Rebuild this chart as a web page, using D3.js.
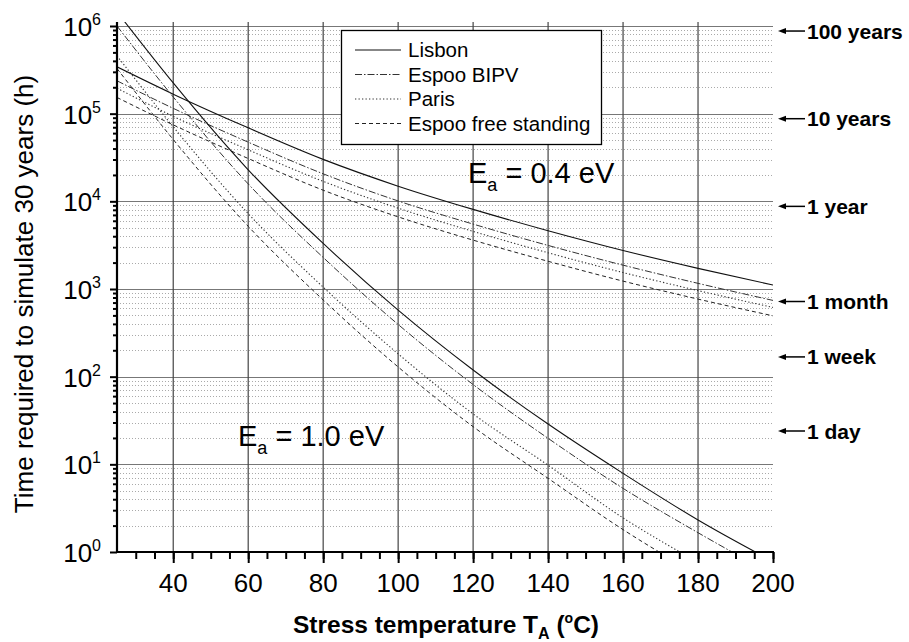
<!DOCTYPE html>
<html><head><meta charset="utf-8">
<script src="https://cdn.jsdelivr.net/npm/d3@7"></script>
<style>
body{margin:0;background:#fff}
svg{display:block}
text{font-family:"Liberation Sans",Arial,Helvetica,sans-serif;fill:#000}
</style>
</head><body>
<svg id="chart" width="909" height="642"></svg>
<script>
// ---------- data ----------
const temps = [25, 40, 60, 80, 100, 120, 140, 160, 180, 200];
const seriesNames = ["Lisbon", "Espoo BIPV", "Paris", "Espoo free standing"];

// Ea = 0.4 eV (hours)
const ea04Lisbon = [342000, 167000, 68900, 30100, 14900, 8090, 4620, 2750, 1720, 1110];
const ea04EspooBIPV = [237000, 115000, 47300, 20600, 10100, 5500, 3140, 1870, 1160, 741];
const ea04Paris = [195000, 93300, 38700, 16900, 8360, 4540, 2590, 1540, 959, 617];
const ea04EspooFree = [153000, 74500, 30800, 13400, 6650, 3610, 2070, 1230, 767, 494];

// Ea = 1.0 eV (hours)
const ea10Lisbon = [1450000, 224000, 22900, 3310, 574, 119, 28.8, 7.89, 2.32, 0.78];
const ea10EspooBIPV = [1000000, 155000, 15800, 2290, 394, 81.3, 19.8, 5.32, 1.66, 0.55];
const ea10Paris = [457000, 70800, 7240, 1050, 182, 37.6, 9.77, 2.45, 0.76, 0.25];
const ea10EspooFree = [327000, 50700, 5190, 750, 129, 26.9, 6.92, 1.80, 0.55, 0.19];

const xTickValues = [40, 60, 80, 100, 120, 140, 160, 180, 200];
const yTickValues = [1, 10, 100, 1000, 10000, 100000, 1000000];
const yTickExponents = ["0", "1", "2", "3", "4", "5", "6"];

const rightLabels = ["100 years", "10 years", "1 year", "1 month", "1 week", "1 day"];
const rightHours = [876000, 87600, 8760, 720, 168, 24];

const eaLabels = ["0.4", "1.0"];

// ---------- layout ----------
const svg = d3.select("#chart");
const L = 117, R = 773, T = 22, B = 552;
const x = d3.scaleLinear().domain([25, 200]).range([L, R]);
const y = d3.scaleLog().domain([1, Math.pow(10, 6.0456)]).range([B, T]);

const styles = [
  {dash: null, color: "#111", w: 1.1},
  {dash: "7,2,1.5,2", color: "#333", w: 1.0},
  {dash: "1.3,2.2", color: "#333", w: 1.1},
  {dash: "4,3", color: "#222", w: 1.0}
];

// ---------- grid ----------
const grid = svg.append("g");
const minorVals = [];
for (let d = 1; d < 1e6; d *= 10) for (let k = 2; k <= 9; k++) minorVals.push(d * k);
grid.selectAll("line.minor").data(minorVals).enter().append("line")
  .attr("x1", L).attr("x2", R)
  .attr("y1", d => Math.round(y(d)) + 0.5).attr("y2", d => Math.round(y(d)) + 0.5)
  .attr("stroke", "#aaa").attr("stroke-width", 1).attr("stroke-dasharray", "1,2");
grid.selectAll("line.major").data(yTickValues.slice(1)).enter().append("line")
  .attr("x1", L).attr("x2", R)
  .attr("y1", d => Math.round(y(d)) + 0.5).attr("y2", d => Math.round(y(d)) + 0.5)
  .attr("stroke", "#777").attr("stroke-width", 1.2);
grid.selectAll("line.v").data(xTickValues.filter(v => v < 200)).enter().append("line")
  .attr("x1", d => x(d)).attr("x2", d => x(d))
  .attr("y1", T).attr("y2", B)
  .attr("stroke", "#444").attr("stroke-width", 1.2);

// ---------- curves ----------
svg.append("clipPath").attr("id", "clip").append("rect")
  .attr("x", L).attr("y", T).attr("width", R - L).attr("height", B - T);
const line = d3.line().x((d, i) => x(temps[i])).y(d => y(d)).curve(d3.curveMonotoneX);
const curves = svg.append("g").attr("clip-path", "url(#clip)");
const allSeries = [
  [ea04Lisbon, 0], [ea04EspooBIPV, 1], [ea04Paris, 2], [ea04EspooFree, 3],
  [ea10Lisbon, 0], [ea10EspooBIPV, 1], [ea10Paris, 2], [ea10EspooFree, 3]
];
allSeries.forEach(([vals, s]) => {
  curves.append("path").attr("d", line(vals))
    .attr("fill", "none").attr("stroke", styles[s].color)
    .attr("stroke-width", styles[s].w)
    .attr("stroke-dasharray", styles[s].dash);
});

// ---------- axes ----------
const xMinor = d3.range(30, 201, 5);
const gx = svg.append("g").attr("transform", `translate(0,${B})`);
gx.call(d3.axisBottom(x).tickValues(xMinor).tickSize(7).tickFormat(""));
gx.select(".domain").remove();
const gx2 = svg.append("g").attr("transform", `translate(0,${B})`);
gx2.call(d3.axisBottom(x).tickValues(xTickValues).tickSize(11).tickFormat(""));
gx2.select(".domain").remove();
svg.selectAll(".tick line").attr("stroke", "#000").attr("stroke-width", 2);
svg.append("line").attr("x1", L - 1).attr("x2", R + 1).attr("y1", B).attr("y2", B)
  .attr("stroke", "#000").attr("stroke-width", 2.2);

svg.append("g").selectAll("text").data(xTickValues).enter().append("text")
  .attr("x", d => x(d)).attr("y", B + 40)
  .attr("text-anchor", "middle").attr("font-size", 26).text(d => d);

const gy = svg.append("g").attr("transform", `translate(${L},0)`);
gy.call(d3.axisLeft(y).tickValues(minorVals).tickSize(4).tickFormat(""));
gy.select(".domain").remove();
const gy2 = svg.append("g").attr("transform", `translate(${L},0)`);
gy2.call(d3.axisLeft(y).tickValues(yTickValues).tickSize(7).tickFormat(""));
gy2.select(".domain").remove();
gy.selectAll(".tick line").attr("stroke", "#000").attr("stroke-width", 2);
gy2.selectAll(".tick line").attr("stroke", "#000").attr("stroke-width", 2);
svg.append("line").attr("x1", L).attr("x2", L).attr("y1", T).attr("y2", B + 1)
  .attr("stroke", "#000").attr("stroke-width", 2.2);

const yl = svg.append("g").selectAll("text").data(yTickValues).enter().append("text")
  .attr("x", 101).attr("y", d => y(d) + 10)
  .attr("text-anchor", "end").attr("font-size", 26);
yl.append("tspan").text("10");
yl.append("tspan").attr("dy", -11).attr("font-size", 16).text((d, i) => yTickExponents[i]);

// axis titles
svg.append("text")
  .attr("transform", "translate(33,294) rotate(-90)")
  .attr("text-anchor", "middle").attr("font-size", 26)
  .text("Time required to simulate 30 years (h)");
const xt = svg.append("text").attr("x", 446).attr("y", 633)
  .attr("text-anchor", "middle").attr("font-size", 24.5).attr("font-weight", "bold");
xt.append("tspan").text("Stress temperature T");
xt.append("tspan").attr("dy", 6).attr("font-size", 16).text("A");
xt.append("tspan").attr("dy", -6).text(" (");
xt.append("tspan").attr("dy", -10).attr("font-size", 14).text("o");
xt.append("tspan").attr("dy", 10).text("C)");

// ---------- Ea labels ----------
const eaPos = [[468, 183], [238, 446]];
eaLabels.forEach((v, i) => {
  const t = svg.append("text").attr("x", eaPos[i][0]).attr("y", eaPos[i][1]).attr("font-size", 29);
  t.append("tspan").text("E");
  t.append("tspan").attr("dy", 8).attr("font-size", 18).text("a");
  t.append("tspan").attr("dy", -8).text(" = " + v + " eV");
});

// ---------- legend ----------
const lg = svg.append("g");
lg.append("rect").attr("x", 341.5).attr("y", 30.5).attr("width", 260).attr("height", 114)
  .attr("fill", "#fff").attr("stroke", "#000").attr("stroke-width", 1.3);
seriesNames.forEach((n, i) => {
  const cy = 50 + i * 24.5;
  lg.append("line").attr("x1", 355).attr("x2", 401).attr("y1", cy).attr("y2", cy)
    .attr("stroke", styles[i].color).attr("stroke-width", styles[i].w)
    .attr("stroke-dasharray", styles[i].dash);
  lg.append("text").attr("x", 408).attr("y", cy + 7).attr("font-size", 20.5).text(n);
});

// ---------- right-hand time markers ----------
const rm = svg.append("g");
rightLabels.forEach((lab, i) => {
  const yy = y(rightHours[i]);
  rm.append("line").attr("x1", 783).attr("x2", 805).attr("y1", yy).attr("y2", yy)
    .attr("stroke", "#000").attr("stroke-width", 1.5);
  rm.append("path").attr("d", `M778,${yy} L786,${yy - 3} L786,${yy + 3} Z`).attr("fill", "#000");
  rm.append("text").attr("x", 807).attr("y", yy).attr("dy", "0.36em")
    .attr("font-size", 21).attr("font-weight", "bold").text(lab);
});
</script>
</body></html>
